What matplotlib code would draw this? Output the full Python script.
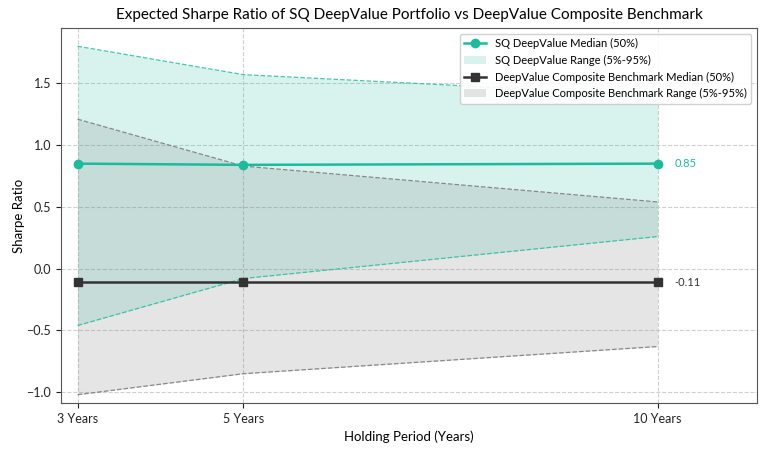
import matplotlib.pyplot as plt

plt.rcParams['font.family'] = ['Lato', 'DejaVu Sans']

years = [3, 5, 10]
year_labels = ["3 Years", "5 Years", "10 Years"]

sq_median = [0.85, 0.84, 0.85]
sq_low = [-0.46, -0.08, 0.26]
sq_high = [1.80, 1.57, 1.40]

bm_median = [-0.11, -0.11, -0.11]
bm_low = [-1.02, -0.85, -0.63]
bm_high = [1.21, 0.83, 0.54]

teal = "#1abc9c"
dark = "#333333"

fig = plt.figure(figsize=(7.68, 4.61), dpi=100)
ax = fig.add_axes([0.0794, 0.1258, 0.9063, 0.8128])

ax.fill_between(years, sq_low, sq_high, color=teal, alpha=0.17, lw=0,
                label="SQ DeepValue Range (5%-95%)")
ax.plot(years, sq_low, color=teal, lw=0.9, ls="--", alpha=0.8)
ax.plot(years, sq_high, color=teal, lw=0.9, ls="--", alpha=0.8)

ax.fill_between(years, bm_low, bm_high, color="#808080", alpha=0.2, lw=0,
                label="DeepValue Composite Benchmark Range (5%-95%)")
ax.plot(years, bm_low, color="#888888", lw=0.9, ls="--")
ax.plot(years, bm_high, color="#888888", lw=0.9, ls="--")

ax.plot(years, sq_median, color=teal, lw=1.8, marker="o", ms=6,
        label="SQ DeepValue Median (50%)", zorder=5)
ax.plot(years, bm_median, color=dark, lw=1.8, marker="s", ms=6,
        label="DeepValue Composite Benchmark Median (50%)", zorder=5)

ax.text(10.2, sq_median[-1], f"{sq_median[-1]:.2f}", color=teal, fontsize=8, va="center")
ax.text(10.2, bm_median[-1], f"{bm_median[-1]:.2f}", color=dark, fontsize=8, va="center")

ax.set_xlim(2.8, 11.2)
ax.set_ylim(-1.087, 1.945)
ax.set_xticks(years)
ax.set_xticklabels(year_labels)
ax.set_yticks([-1.0, -0.5, 0.0, 0.5, 1.0, 1.5])
ax.tick_params(labelsize=9, colors="#222222")
ax.grid(True, ls="--", color="#d0d0d0", lw=0.8)
ax.set_axisbelow(True)
for s in ax.spines.values():
    s.set_color("#555555")

ax.set_xlabel("Holding Period (Years)", fontsize=9.5)
ax.set_ylabel("Sharpe Ratio", fontsize=9.5, labelpad=1)
ax.set_title("Expected Sharpe Ratio of SQ DeepValue Portfolio vs DeepValue Composite Benchmark",
             fontsize=11, pad=7)

h, l = ax.get_legend_handles_labels()
order = [2, 0, 3, 1]
ax.legend([h[i] for i in order], [l[i] for i in order], loc="upper right",
          fontsize=8, framealpha=0.9)

fig.savefig("out.png", dpi=100)
